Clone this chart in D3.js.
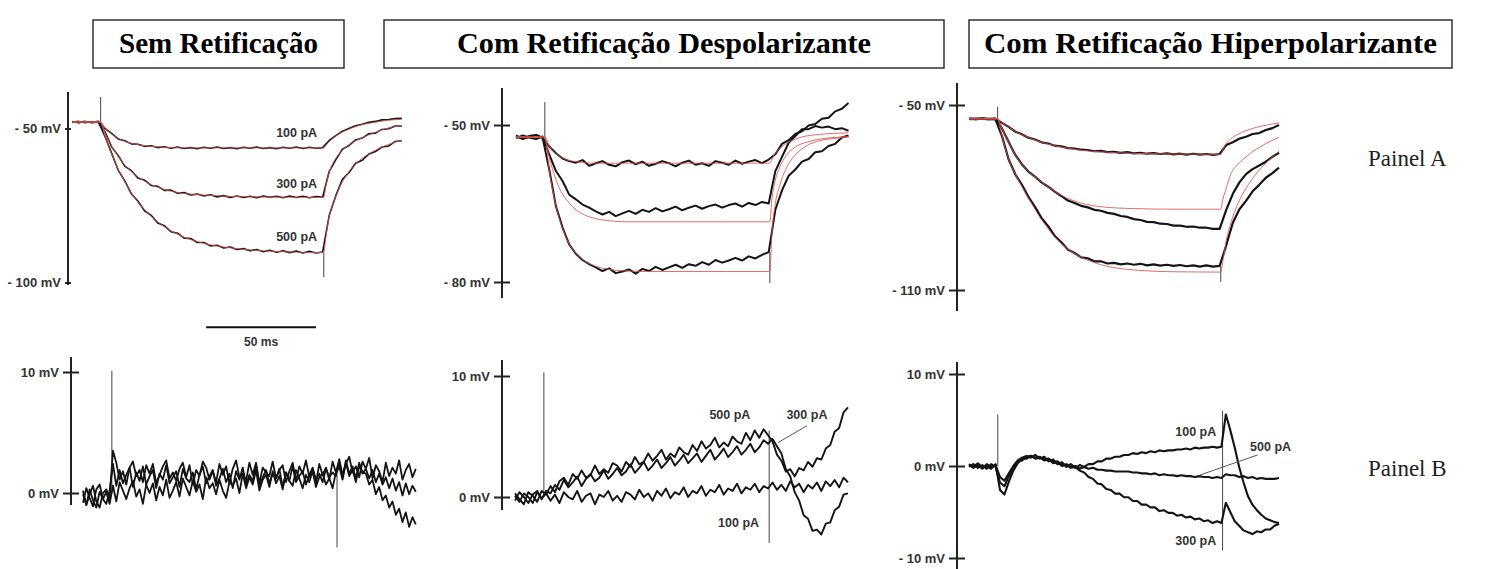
<!DOCTYPE html>
<html>
<head>
<meta charset="utf-8">
<script src="https://cdn.jsdelivr.net/npm/d3@7"></script>
<style>
  body { margin: 0; background: #fff; }
  svg { display: block; }
</style>
</head>
<body>
<svg id="fig" width="1488" height="569"></svg>
<script>
// ---------- dados (mV), amostrados a cada dt ms a partir de t = 0 ----------
const dtA = 3;     // painel A
const dtB1 = 1.5;  // painel B, sem retificação
const dtB = 2;     // painel B, demais

const titles = ["Sem Retificação", "Com Retificação Despolarizante", "Com Retificação Hiperpolarizante"];
const rowLabels = ["Painel A", "Painel B"];

// Painel A, sem retificação
const a1Black100 = [-47.7,-48.1,-47.8,-48.0,-47.7,-50.0,-51.6,-53.4,-54.0,-55.0,-55.1,-55.8,-55.6,-56.2,-55.9,-56.4,-56.0,-56.5,-56.2,-56.6,-56.1,-56.4,-56.0,-56.5,-56.2,-56.6,-56.1,-56.4,-56.0,-56.5,-56.2,-56.6,-56.1,-56.4,-56.0,-56.5,-56.1,-56.4,-56.2,-53.9,-52.3,-50.9,-50.0,-49.1,-48.6,-48.0,-47.7,-47.2,-47.1,-46.8,-46.7];
const a1Black300 = [-48.0,-47.7,-48.1,-47.8,-48.0,-51.1,-55.9,-58.8,-62.2,-63.7,-66.1,-66.8,-68.5,-68.8,-70.1,-70.0,-71.0,-70.8,-71.6,-71.3,-71.9,-71.5,-72.2,-71.8,-72.4,-71.9,-72.4,-72.0,-72.5,-71.9,-72.3,-72.0,-72.5,-71.9,-72.4,-72.0,-72.5,-72.1,-72.3,-63.9,-60.1,-56.7,-55.5,-53.7,-53.1,-51.7,-51.5,-50.3,-50.1,-49.2,-49.2];
const a1Black500 = [-47.8,-48.0,-47.7,-48.1,-47.9,-52.6,-58.0,-63.5,-67.0,-71.2,-73.6,-76.7,-78.2,-80.7,-81.6,-83.5,-84.0,-85.6,-85.7,-87.0,-87.0,-88.1,-87.9,-88.8,-88.5,-89.3,-89.0,-89.7,-89.3,-90.0,-89.5,-90.2,-89.7,-90.3,-89.8,-90.4,-89.9,-90.4,-90.1,-78.2,-71.8,-66.5,-64.3,-61.3,-60.3,-58.3,-57.5,-56.0,-55.7,-54.2,-54.0];

// Painel A, retificação despolarizante
const a2Black100 = [-52.0,-52.7,-52.3,-51.9,-52.5,-54.1,-55.4,-56.4,-56.9,-57.2,-56.7,-57.8,-57.3,-56.9,-57.6,-57.9,-57.1,-56.8,-57.5,-57.0,-57.8,-57.4,-56.9,-57.3,-57.9,-57.2,-56.8,-57.6,-57.3,-57.8,-56.9,-57.2,-57.6,-56.8,-57.4,-57.0,-56.7,-57.3,-56.6,-55.6,-53.6,-52.9,-51.7,-51.2,-50.1,-49.8,-48.8,-48.6,-47.4,-46.9,-45.8];
const a2Black300 = [-52.5,-52.0,-52.4,-52.7,-52.2,-55.6,-58.8,-60.7,-63.3,-64.2,-65.2,-65.8,-66.5,-67.1,-66.6,-67.4,-66.9,-66.4,-67.0,-66.2,-66.6,-65.9,-66.5,-66.1,-65.6,-66.3,-65.8,-65.4,-66.0,-65.5,-65.2,-65.8,-65.3,-65.0,-65.6,-64.9,-65.3,-64.7,-65.0,-58.8,-56.1,-53.4,-52.1,-50.8,-50.8,-50.2,-50.5,-50.3,-50.8,-50.6,-51.1];
const a2Black500 = [-52.2,-52.6,-52.1,-51.9,-52.4,-58.5,-65.5,-69.6,-72.8,-74.6,-75.8,-76.6,-77.2,-77.9,-77.4,-78.3,-78.0,-77.6,-78.4,-77.5,-77.9,-77.1,-77.7,-77.2,-76.7,-77.3,-76.6,-76.9,-76.2,-76.7,-75.8,-76.3,-75.9,-75.4,-75.9,-75.1,-75.5,-74.8,-74.3,-66.2,-62.5,-59.7,-58.5,-57.0,-56.5,-55.2,-55.0,-54.0,-53.6,-52.4,-52.0];

// Painel A, retificação hiperpolarizante
const a3Black100 = [-54.4,-54.6,-54.4,-54.6,-54.5,-55.8,-57.1,-58.6,-59.5,-60.6,-61.2,-62.1,-62.5,-63.2,-63.4,-64.0,-64.1,-64.5,-64.6,-65.0,-64.9,-65.3,-65.2,-65.5,-65.3,-65.7,-65.5,-65.8,-65.6,-65.9,-65.7,-66.0,-65.8,-66.1,-65.8,-66.1,-65.9,-66.2,-65.9,-63.0,-62.1,-60.9,-60.3,-59.4,-59.1,-58.1,-57.5,-56.5];
const a3Black300 = [-54.6,-54.4,-54.5,-54.6,-54.4,-57.6,-61.9,-66.1,-69.2,-71.6,-73.2,-75.1,-76.5,-78.1,-79.5,-81.0,-81.8,-82.7,-83.2,-84.0,-84.3,-85.0,-85.3,-86.0,-86.3,-87.0,-87.3,-87.9,-88.0,-88.5,-88.6,-89.1,-89.1,-89.5,-89.4,-89.8,-89.8,-90.2,-90.2,-84.0,-78.8,-75.1,-72.4,-70.8,-69.6,-68.4,-66.8,-65.5];
const a3Black500 = [-54.5,-54.6,-54.4,-54.5,-54.6,-60.1,-67.6,-72.4,-75.8,-79.8,-83.0,-86.7,-89.3,-92.5,-94.5,-96.9,-98.0,-99.4,-99.7,-100.7,-100.7,-101.4,-101.2,-101.7,-101.4,-101.8,-101.5,-102.0,-101.7,-102.1,-101.8,-102.2,-101.9,-102.3,-102.0,-102.4,-102.0,-102.4,-102.2,-95.5,-88.2,-83.8,-81.1,-78.0,-75.9,-73.6,-72.1,-70.3];

// ajustes (vermelho), tempos em ms
const fitTimesA = [0, 13, 15, 17, 19, 21, 24, 27, 31, 36, 42, 50, 60, 75, 95, 114.5, 115.5, 117, 119, 122, 126, 131, 137, 143, 150];
const fitTimesA3 = [0, 13, 15, 17, 19, 21, 24, 27, 31, 36, 42, 50, 60, 75, 95, 114.5, 115.5, 117, 119, 122, 126, 131, 137, 141];
const a1Fit100 = [-47.9,-47.9,-49.8,-51.2,-52.3,-53.2,-54.2,-54.8,-55.4,-55.8,-56.1,-56.3,-56.3,-56.3,-56.3,-56.3,-55.5,-54.2,-53.0,-51.5,-50.2,-48.9,-48.1,-47.4,-47.0];
const a1Fit300 = [-47.9,-47.9,-51.4,-54.4,-56.9,-59.1,-61.9,-64.0,-66.2,-68.2,-69.8,-71.0,-71.6,-72.1,-72.3,-72.4,-68.5,-64.2,-60.8,-57.8,-55.3,-53.3,-51.5,-50.0,-49.0];
const a1Fit500 = [-47.9,-47.9,-52.4,-56.4,-59.9,-63.2,-67.3,-70.9,-74.8,-78.5,-81.9,-85.0,-87.3,-89.0,-90.0,-90.3,-85.0,-78.5,-74.0,-68.7,-64.0,-60.2,-57.4,-55.4,-53.8];
const a2Fit100 = [-52.3,-52.3,-54.0,-55.1,-55.8,-56.3,-56.8,-57.0,-57.2,-57.3,-57.3,-57.3,-57.3,-57.3,-57.3,-57.3,-56.5,-55.4,-54.5,-53.5,-52.7,-52.1,-51.8,-51.6,-51.5];
const a2Fit300 = [-52.3,-52.3,-56.2,-59.2,-61.5,-63.2,-64.9,-66.2,-67.2,-67.9,-68.3,-68.5,-68.5,-68.5,-68.5,-68.5,-64.0,-60.5,-58.0,-55.8,-54.2,-53.3,-52.7,-52.4,-52.2];
const a2Fit500 = [-52.3,-52.3,-58.7,-63.5,-67.1,-69.8,-72.7,-74.5,-76.0,-77.0,-77.6,-77.9,-78.0,-78.0,-78.0,-78.0,-70.5,-65.0,-61.5,-58.2,-55.7,-54.0,-53.0,-52.6,-52.3];
const a3Fit100 = [-54.5,-54.5,-55.7,-56.7,-57.6,-58.5,-59.6,-60.5,-61.6,-62.7,-63.6,-64.6,-65.2,-65.7,-65.9,-66.0,-64.5,-62.5,-61.0,-59.6,-58.3,-57.2,-56.3,-55.8];
const a3Fit300 = [-54.5,-54.5,-57.6,-60.6,-63.4,-66.1,-69.2,-71.6,-73.8,-76.6,-79.3,-81.6,-83.0,-83.6,-83.8,-83.8,-80.5,-77.0,-72.5,-69.5,-66.8,-64.2,-61.8,-60.5];
const a3Fit500 = [-54.5,-54.5,-60.1,-65.3,-69.3,-72.2,-76.4,-80.2,-85.0,-90.2,-95.0,-99.0,-101.8,-103.5,-104.1,-104.2,-100.5,-94.0,-88.5,-82.5,-77.0,-72.0,-67.5,-65.0];

// Painel B (diferença registro - ajuste)
const b1Trace1 = [0.2,-1.0,-0.1,0.6,-0.7,-1.2,0.0,0.3,-0.5,3.5,
  2.5,1.1,1.8,0.7,2.1,2.6,1.4,1.9,0.9,2.3,1.6,2.4,0.8,1.5,2.2,2.7,1.2,1.7,1.0,2.0,
  2.5,1.3,2.3,0.7,1.9,1.4,2.6,2.1,1.1,1.8,0.9,2.4,1.5,2.2,0.8,2.0,2.7,1.3,1.6,1.0,
  2.5,1.5,2.5,0.8,2.1,1.7,1.4,2.6,1.2,1.9,2.3,0.9,1.8,2.5,1.0,2.2,1.6,2.7,1.3,2.0,
  0.8,2.4,1.5,2.1,1.1,2.6,1.7,
  2.8,1.5,2.4,3.0,1.7,2.2,1.3,2.6,2.0,2.9,
  1.2,2.3,1.8,0.9,2.5,1.4,2.1,1.6,2.7,1.1,1.9,2.4,1.3,2.0];
const b1Trace2 = [-0.8,0.4,-0.4,-1.1,0.3,0.7,-0.5,0.1,-0.9,
  0.6,-0.7,0.9,0.2,-0.5,0.4,1.0,-0.3,0.3,-0.9,0.7,0.0,0.8,-0.6,0.5,-0.2,1.1,-0.4,0.2,
  0.9,-0.3,1.2,0.5,-0.2,1.0,0.1,0.7,-0.5,1.3,0.4,0.8,-0.1,1.1,0.2,-0.4,0.9,0.6,1.2,0.0,
  1.6,0.4,1.3,0.7,1.9,0.2,1.1,1.5,0.5,1.8,0.8,1.4,0.3,1.7,1.0,0.6,1.9,1.2,0.4,1.5,0.9,1.8,0.5,1.3,1.6,0.7,1.2,0.4,1.7,
  2.2,1.1,2.5,1.4,1.9,0.9,2.3,1.6,2.0,1.2,
  1.9,0.9,1.6,0.7,1.3,0.4,1.2,0.2,0.9,-0.2,0.8,-0.1,0.6,0.1];
const b1Trace3 = [-0.1,-1.0,0.3,-0.6,-1.2,0.1,-0.5,-0.9,0.2,
  2.4,0.6,1.9,0.8,1.5,2.1,0.5,1.7,1.0,2.2,0.7,1.4,1.9,0.4,1.6,1.1,2.3,0.8,1.3,1.8,
  0.5,2.0,1.2,0.9,1.7,0.3,1.5,2.2,0.8,1.4,1.9,0.6,1.2,2.0,0.9,1.6,0.4,1.8,1.1,2.1,
  0.7,1.5,1.0,2.3,0.6,1.3,1.9,0.8,1.6,1.2,2.0,0.5,1.7,1.0,2.2,0.9,1.4,1.8,0.7,1.5,
  2.1,1.1,1.6,0.9,2.0,1.3,1.7,1.4,
  2.4,1.3,2.7,1.6,2.2,1.2,2.5,1.7,
  1.6,0.7,1.1,-0.1,0.5,-0.6,-0.2,-1.2,-0.7,-1.8,-1.3,-2.4,-1.6,-2.8,-2.0,-2.6];

const b2Trace500 = [0.3,-0.2,-0.6,0.4,0.1,-0.4,0.5,0.2,
  0.9,0.4,1.3,1.6,1.0,1.9,1.5,2.2,1.6,1.8,2.6,1.9,2.3,2.0,2.8,2.6,2.1,2.9,2.5,3.3,
  2.7,2.9,3.6,3.0,3.4,3.9,3.1,3.6,3.3,4.1,3.7,3.5,4.3,3.8,4.6,4.0,4.3,4.9,4.1,4.5,
  4.2,5.0,4.6,4.4,5.3,4.7,5.5,4.9,5.6,5.1,
  4.6,3.5,3.0,2.1,2.3,1.7,2.4,2.2,2.9,2.5,3.2,3.1,4.0,4.3,5.4,5.7,7.0,7.4];
const b2Trace300 = [-0.3,0.4,0.0,-0.5,0.2,0.5,-0.2,0.5,
  0.3,1.0,0.6,1.4,0.8,1.2,1.7,0.9,1.5,1.9,1.3,1.6,2.2,1.5,1.9,2.4,1.8,2.1,2.7,2.0,
  2.4,2.9,2.2,2.6,3.1,2.4,2.8,3.3,2.6,3.0,3.5,2.8,3.2,3.6,2.9,3.4,3.9,3.1,3.5,4.0,
  3.3,3.7,4.2,3.5,3.9,4.4,3.7,4.1,4.7,4.4,
  4.8,4.2,3.6,2.3,1.7,0.4,-0.3,-1.5,-1.8,-2.8,-2.7,-3.1,-2.2,-2.1,-1.1,-0.8,0.2,0.3];
const b2Trace100 = [0.1,-0.4,0.3,0.0,-0.5,0.4,-0.1,0.3,
  -0.3,0.2,-0.5,0.4,0.0,-0.2,0.5,-0.4,0.1,0.3,-0.6,0.2,0.0,0.5,-0.3,0.1,-0.4,0.4,0.2,-0.2,
  0.6,0.0,0.3,-0.3,0.5,0.1,0.7,-0.1,0.4,0.2,0.8,0.0,0.5,0.3,0.9,0.1,0.6,0.4,1.0,0.2,
  0.7,0.5,1.1,0.3,0.8,0.6,1.1,0.4,0.9,0.7,
  1.2,0.6,1.0,0.5,1.3,0.8,1.1,0.4,1.0,0.7,1.2,0.5,1.3,0.9,1.4,0.8,1.6,1.2];

const b3Trace100 = [0.2,-0.2,0.1,-0.3,0.2,-0.1,0.1,-1.2,-1.6,-0.8,0.0,0.6,0.9,1.1,0.9,1.2,0.8,1.0,0.5,0.7,0.2,0.4,-0.1,0.2,-0.2,0.1,
  -0.1,0.2,0.2,0.5,0.5,0.8,0.8,1.0,1.0,1.2,1.2,1.4,1.3,1.5,1.4,1.6,1.5,1.7,1.6,1.7,1.7,1.8,1.8,1.9,1.8,2.0,1.9,2.0,2.0,2.1,2.0,2.1,
  5.6,3.9,2.0,-0.1,-1.8,-3.3,-4.2,-4.8,-5.3,-5.7,-5.9,-6.1,-6.2];
const b3Trace500 = [-0.1,0.2,-0.2,0.1,-0.3,0.2,-0.1,-1.8,-2.2,-1.1,-0.4,0.5,0.6,1.0,1.1,0.9,1.0,0.7,0.8,0.4,0.5,0.1,0.2,-0.1,0.0,-0.3,
  -0.1,-0.3,-0.2,-0.4,-0.4,-0.5,-0.5,-0.6,-0.6,-0.6,-0.6,-0.7,-0.7,-0.8,-0.8,-0.9,-0.8,-1.0,-0.9,-1.0,-1.0,-1.1,-1.0,-1.1,-1.1,-1.2,-1.1,-1.2,-1.2,-1.3,-1.2,-1.3,
  -0.9,-1.0,-1.0,-1.2,-1.1,-1.3,-1.2,-1.4,-1.3,-1.4,-1.4,-1.4,-1.3];
const b3Trace300 = [0.1,-0.1,0.3,-0.2,0.0,-0.3,0.2,-2.6,-3.1,-1.7,-0.5,0.3,0.8,0.8,1.1,0.8,0.9,0.6,0.7,0.3,0.4,0.0,0.1,-0.2,-0.1,-0.5,
  -0.7,-1.2,-1.4,-1.9,-2.0,-2.5,-2.6,-3.0,-3.0,-3.4,-3.4,-3.8,-3.8,-4.2,-4.2,-4.5,-4.5,-4.9,-4.8,-5.1,-5.1,-5.4,-5.3,-5.6,-5.5,-5.8,-5.7,-6.0,-5.9,-6.2,-6.0,-6.2,
  -4.0,-5.0,-6.0,-6.5,-7.0,-7.2,-7.4,-7.1,-7.2,-6.9,-6.9,-6.5,-6.3];

// artefatos de estímulo: [t (ms), de (mV), até (mV)]
const a1Artifacts = [[13, -47.9, -39.8], [114.5, -90.3, -98.2]];
const a2Artifacts = [[13, -52.3, -45.6], [114.5, -74.3, -80.2]];
const a3Artifacts = [[13, -54.5, -50.6], [114.5, -102.2, -107.4]];
const b1Artifacts = [[13, 0.0, 10.1], [114.5, 1.5, -4.5]];
const b2Artifacts = [[13, 0.0, 10.3], [114.5, 5.5, -3.8]];
const b3Artifacts = [[13, 0.0, 5.6], [114.5, 6.0, -9.2]];

// rótulos de corrente: [texto, t (ms), mV]
const a1Labels = [["100 pA", 111.5, -51.5], ["300 pA", 111.5, -68.0], ["500 pA", 111.5, -85.2]];
const b2Labels = [["500 pA", 96.8, 6.8], ["300 pA", 131.5, 6.8], ["100 pA", 100.7, -2.1]];
const b3Labels = [["100 pA", 102.4, 3.7], ["500 pA", 136.2, 2.1], ["300 pA", 102.4, -8.1]];
const b2Leader = [[131.6, 5.9], [118.5, 4.5]];
const b3Leader = [[130.3, 1.2], [104.1, -1.0]];

// barra de escala (50 ms)
const scaleBarMs = 50;

// ---------- layout ----------
const svg = d3.select("#fig");
svg.append("rect").attr("width", 1488).attr("height", 569).attr("fill", "#fff");

const black = "#141414";
const red = "#d9534f";
const labelFont = "Liberation Sans, Arial, sans-serif";
const serif = "Liberation Serif, Times New Roman, serif";

const fmtA = v => "- " + Math.abs(v) + " mV";
const fmtB = v => (v < 0 ? "- " + Math.abs(v) : v) + " mV";

const panels = [
  { id: "a1", x: [0, 151], xr: [72, 404], y: [-50, -100], yr: [128.5, 282.5],
    axisX: 68, axisY: [92, 285], ticks: [-50, -100], tick: 3, fmt: fmtA,
    dt: dtA, black: [a1Black100, a1Black300, a1Black500], bw: 1.6,
    fitT: fitTimesA, fits: [a1Fit100, a1Fit300, a1Fit500],
    artifacts: a1Artifacts, labels: a1Labels, anchor: "end" },
  { id: "a2", x: [0, 150], xr: [516, 848.5], y: [-50, -80], yr: [125, 282],
    axisX: 502, axisY: [88, 298], ticks: [-50, -80], tick: 8, fmt: fmtA,
    dt: dtA, black: [a2Black100, a2Black300, a2Black500], bw: 2,
    fitT: fitTimesA, fits: [a2Fit100, a2Fit300, a2Fit500],
    artifacts: a2Artifacts, labels: [] },
  { id: "a3", x: [0, 141], xr: [969, 1279], y: [-50, -110], yr: [105, 290],
    axisX: 957, axisY: [83, 311], ticks: [-50, -110], tick: 8, fmt: fmtA,
    dt: dtA, black: [a3Black100, a3Black300, a3Black500], bw: 2.2,
    fitT: fitTimesA3, fits: [a3Fit100, a3Fit300, a3Fit500],
    artifacts: a3Artifacts, labels: [] },
  { id: "b1", x: [0, 151], xr: [83, 418], y: [0, 10], yr: [493, 372],
    axisX: 71, axisY: [357, 505], ticks: [10, 0], tick: 8, fmt: fmtB,
    dt: dtB1, black: [b1Trace1, b1Trace2, b1Trace3], bw: 1.8,
    fits: [], artifacts: b1Artifacts, labels: [] },
  { id: "b2", x: [0, 150], xr: [515, 848], y: [0, 10], yr: [497, 376],
    axisX: 502, axisY: [360, 510], ticks: [10, 0], tick: 8, fmt: fmtB,
    dt: dtB, black: [b2Trace500, b2Trace300, b2Trace100], bw: 1.9,
    fits: [], artifacts: b2Artifacts, labels: b2Labels, leader: b2Leader, anchor: "middle" },
  { id: "b3", x: [0, 140], xr: [969, 1279], y: [0, 10], yr: [466, 374],
    axisX: 957, axisY: [362, 569], ticks: [10, 0, -10], tick: 8, fmt: fmtB,
    dt: dtB, black: [b3Trace100, b3Trace500, b3Trace300], bw: 2.1,
    fits: [], artifacts: b3Artifacts, labels: b3Labels, leader: b3Leader, anchor: "middle" }
];

panels.forEach(drawPanel);

function drawPanel(p) {
  const g = svg.append("g").attr("class", p.id);
  const x = d3.scaleLinear().domain(p.x).range(p.xr);
  const y = d3.scaleLinear().domain(p.y).range(p.yr);

  // eixo vertical
  g.append("line")
    .attr("x1", p.axisX).attr("x2", p.axisX)
    .attr("y1", p.axisY[0]).attr("y2", p.axisY[1])
    .attr("stroke", "#222").attr("stroke-width", 2);

  const ax = g.append("g")
    .attr("transform", `translate(${p.axisX},0)`)
    .call(d3.axisLeft(y).tickValues(p.ticks).tickFormat(p.fmt).tickSize(p.tick).tickPadding(4));
  ax.select(".domain").remove();
  ax.selectAll(".tick line")
    .attr("x1", p.tick).attr("stroke", "#222").attr("stroke-width", 2);
  ax.selectAll(".tick text")
    .attr("font-family", labelFont).attr("font-size", 13)
    .attr("font-weight", "bold").attr("fill", "#333");

  // artefatos
  g.selectAll(".art").data(p.artifacts).enter().append("line")
    .attr("x1", d => x(d[0])).attr("x2", d => x(d[0]))
    .attr("y1", d => y(d[1])).attr("y2", d => y(d[2]))
    .attr("stroke", "#555").attr("stroke-width", 1.1);

  // registros
  const line = d3.line().x((d, i) => x(i * p.dt)).y(d => y(d));
  g.selectAll(".trace").data(p.black).enter().append("path")
    .attr("d", line)
    .attr("fill", "none").attr("stroke", black)
    .attr("stroke-width", p.bw).attr("stroke-linejoin", "round");

  // ajustes em vermelho
  if (p.fits.length) {
    const fitLine = d3.line()
      .x((d, i) => x(p.fitT[i])).y(d => y(d))
      .curve(d3.curveMonotoneX);
    g.selectAll(".fit").data(p.fits).enter().append("path")
      .attr("d", fitLine)
      .attr("fill", "none").attr("stroke", red)
      .attr("stroke-opacity", 0.85).attr("stroke-width", 1);
  }

  // linha-guia
  if (p.leader) {
    g.append("line")
      .attr("x1", x(p.leader[0][0])).attr("y1", y(p.leader[0][1]))
      .attr("x2", x(p.leader[1][0])).attr("y2", y(p.leader[1][1]))
      .attr("stroke", "#555").attr("stroke-width", 1);
  }

  // rótulos de corrente
  g.selectAll(".lbl").data(p.labels).enter().append("text")
    .attr("x", d => x(d[1])).attr("y", d => y(d[2]))
    .attr("dy", "0.35em")
    .attr("text-anchor", p.anchor || "middle")
    .attr("font-family", labelFont).attr("font-size", 12.5)
    .attr("font-weight", "bold").attr("fill", "#333")
    .text(d => d[0]);

  if (p.id === "a1") {
    // barra de escala de tempo
    const t0 = 61;
    const yBar = y(-114.5);
    g.append("line")
      .attr("x1", x(t0)).attr("x2", x(t0 + scaleBarMs))
      .attr("y1", yBar).attr("y2", yBar)
      .attr("stroke", "#111").attr("stroke-width", 2);
    g.append("text")
      .attr("x", x(t0 + scaleBarMs / 2)).attr("y", yBar + 19)
      .attr("text-anchor", "middle")
      .attr("font-family", labelFont).attr("font-size", 12)
      .attr("font-weight", "bold").attr("fill", "#333")
      .text(scaleBarMs + " ms");
  }
}

// ---------- títulos em caixas ----------
const boxes = [[93, 344], [384, 944], [969, 1452]];
const titleWidths = [199, 414, 453];
const tg = svg.append("g");
titles.forEach((t, i) => {
  const [x0, x1] = boxes[i];
  tg.append("rect")
    .attr("x", x0).attr("y", 20).attr("width", x1 - x0).attr("height", 48)
    .attr("fill", "#fff").attr("stroke", "#111").attr("stroke-width", 1.3);
  tg.append("text")
    .attr("x", (x0 + x1) / 2).attr("y", 53)
    .attr("text-anchor", "middle")
    .attr("font-family", serif).attr("font-weight", "bold")
    .attr("font-size", 29).attr("fill", "#000")
    .attr("textLength", titleWidths[i]).attr("lengthAdjust", "spacingAndGlyphs")
    .text(t);
});

// rótulos das linhas
svg.selectAll(".row").data(rowLabels).enter().append("text")
  .attr("x", 1368).attr("y", (d, i) => i === 0 ? 166 : 476)
  .attr("font-family", serif).attr("font-size", 23).attr("fill", "#222")
  .text(d => d);
</script>
</body>
</html>
